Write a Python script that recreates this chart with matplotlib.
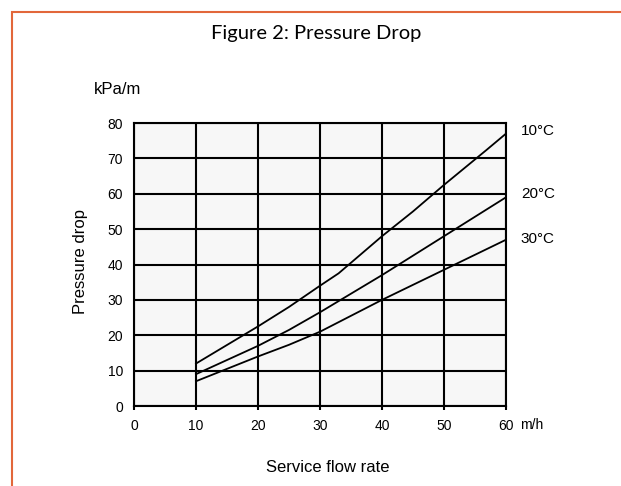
import matplotlib.pyplot as plt
from matplotlib.patches import Rectangle

plt.rcParams['font.family'] = ['Liberation Sans', 'DejaVu Sans']

# flow rate (m/h) and pressure drop (kPa/m)
flow_10 = [10, 20, 25, 30, 33, 40, 45, 50, 56.8, 60]
drop_10 = [12, 22.5, 28, 34, 37.5, 48, 55, 62.5, 72.3, 77]

flow_20 = [10, 20, 25, 30, 40, 50, 60]
drop_20 = [9, 17, 21.5, 26.5, 37, 48, 59]

flow_30 = [10, 20, 25, 30, 40, 50, 60]
drop_30 = [7, 14, 17.3, 21, 30, 38.5, 47]

curve_labels = ["10°C", "20°C", "30°C"]
label_y = [77.7, 60, 47.2]

x_ticks = [0, 10, 20, 30, 40, 50, 60]
y_ticks = [0, 10, 20, 30, 40, 50, 60, 70, 80]

W, H = 621, 486
fig = plt.figure(figsize=(W / 100, H / 100), dpi=100)
fig.patch.set_facecolor("white")

# orange frame (only top and left edges fall inside the picture)
fig.patches.append(Rectangle((12 / W, -0.2), 1.5, 1.2 - 12 / H, transform=fig.transFigure,
                             fill=False, edgecolor="#E2673A", linewidth=1.5))

ax = fig.add_axes([134 / W, 1 - 406 / H, (506 - 134) / W, (406 - 123) / H])
ax.set_facecolor("#F7F7F7")

ax.plot(flow_10, drop_10, color="black", lw=1.3)
ax.plot(flow_20, drop_20, color="black", lw=1.3)
ax.plot(flow_30, drop_30, color="black", lw=1.3)

ax.set_xlim(0, 60)
ax.set_ylim(0, 80)
ax.set_xticks(x_ticks)
ax.set_yticks(y_ticks)
ax.grid(True, color="black", lw=1.5)
ax.set_axisbelow(True)
for s in ax.spines.values():
    s.set_linewidth(1.5)

ax.tick_params(axis="x", direction="out", length=3, width=1.5, pad=6, labelsize=10)
ax.tick_params(axis="y", direction="out", length=0, width=1.5, pad=8, labelsize=10)

for name, yv in zip(curve_labels, label_y):
    ax.text(62.4, yv, name, ha="left", va="center", fontsize=11, clip_on=False)

fig.text(532 / W, 1 - 425 / H, "m/h", ha="center", va="center", fontsize=10)
fig.text(328 / W, 1 - 467 / H, "Service flow rate", ha="center", va="center", fontsize=12)
fig.text(81 / W, 1 - 262 / H, "Pressure drop", ha="center", va="center", rotation=90, fontsize=12)
fig.text(118 / W, 1 - 89 / H, "kPa/m", ha="center", va="center", fontsize=12)
fig.text(316 / W, 1 - 34 / H, "Figure 2: Pressure Drop", ha="center", va="center",
         fontsize=14.5, family="Lato")

fig.savefig("out.png", dpi=100)
